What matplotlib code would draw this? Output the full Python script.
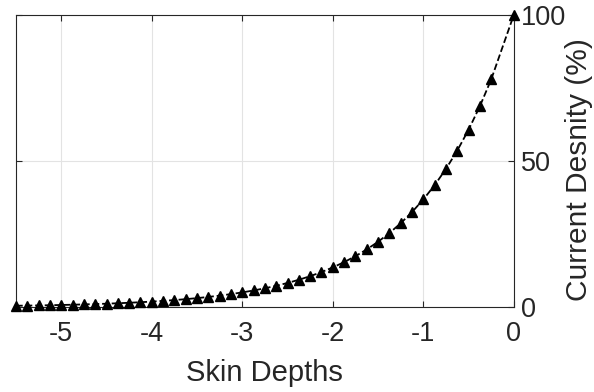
import matplotlib
matplotlib.use("Agg")
import matplotlib.pyplot as plt

# skin depth positions and current density (%)
skin_depths = [-5.5, -5.375, -5.25, -5.125, -5.0, -4.875, -4.75, -4.625, -4.5, -4.375,
               -4.25, -4.125, -4.0, -3.875, -3.75, -3.625, -3.5, -3.375, -3.25, -3.125,
               -3.0, -2.875, -2.75, -2.625, -2.5, -2.375, -2.25, -2.125, -2.0, -1.875,
               -1.75, -1.625, -1.5, -1.375, -1.25, -1.125, -1.0, -0.875, -0.75, -0.625,
               -0.5, -0.375, -0.25, 0.0]
current_density = [0.41, 0.46, 0.52, 0.59, 0.67, 0.76, 0.87, 0.98, 1.11, 1.26,
                   1.43, 1.62, 1.83, 2.08, 2.35, 2.66, 3.02, 3.42, 3.88, 4.39,
                   4.98, 5.64, 6.39, 7.24, 8.21, 9.30, 10.54, 11.94, 13.53, 15.34,
                   17.38, 19.69, 22.31, 25.28, 28.65, 32.47, 36.79, 41.69, 47.24, 53.53,
                   60.65, 68.73, 77.88, 100.0]
x_ticks = [-5, -4, -3, -2, -1, 0]
y_ticks = [0, 50, 100]

plt.rcParams['font.family'] = ['Liberation Sans', 'DejaVu Sans']
axis_col = '#262626'

fig = plt.figure(figsize=(5.94, 3.92), dpi=100)
ax = fig.add_axes([0.027, 0.217, 0.838, 0.745])

ax.plot(skin_depths, current_density, linestyle='--', color='black', linewidth=1.3,
        marker='^', markersize=6.5, markerfacecolor='black', markeredgecolor='black',
        clip_on=False, zorder=3)

ax.set_xlim(-5.5, 0)
ax.set_ylim(0, 100)
ax.set_xticks(x_ticks)
ax.set_yticks(y_ticks)
ax.set_xticklabels([str(t) for t in x_ticks])
ax.yaxis.tick_right()
ax.yaxis.set_label_position('right')
ax.tick_params(axis='both', direction='in', length=4, width=0.8, colors=axis_col,
               labelsize=19.5, top=True, left=True, right=True, bottom=True,
               labelleft=False, labelright=True)
ax.tick_params(axis='x', pad=10)
ax.tick_params(axis='y', pad=5)
ax.grid(True, color='#e3e3e3', linewidth=0.8)
ax.set_axisbelow(True)
for s in ax.spines.values():
    s.set_color(axis_col)
    s.set_linewidth(0.8)

ax.set_xlabel('Skin Depths', fontsize=21, color=axis_col, labelpad=9)
ylab = ax.set_ylabel('Current Desnity (%)', fontsize=21.5, color=axis_col)
ylab.set_rotation_mode('default')
ylab.set_horizontalalignment('right')
ylab.set_verticalalignment('center')
ax.yaxis.set_label_coords((593 / 594 - 0.027) / 0.838, 0.472)

fig.savefig('out.png', dpi=100)
